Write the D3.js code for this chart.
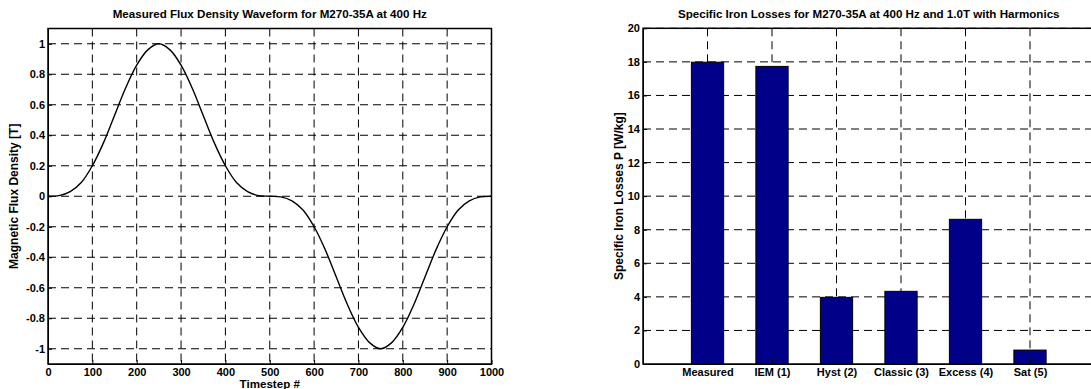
<!DOCTYPE html>
<html>
<head>
<meta charset="utf-8">
<script src="https://cdn.jsdelivr.net/npm/d3@7"></script>
<style>
  body { margin: 0; background: #fff; }
  svg { display: block; font-family: "Liberation Sans", Arial, sans-serif; font-weight: bold; }
  .axis path, .axis line { stroke: #000; }
  .grid line { stroke: #000; stroke-dasharray: 8,5; stroke-width: 1; }
</style>
</head>
<body>
<svg id="chart" width="1091" height="389"></svg>
<script>
// waveform
const timesteps = [0, 25, 50, 75, 100, 125, 150, 175, 200, 225, 250, 275, 300, 325, 350, 375, 400, 425, 450, 475, 500,
  525, 550, 575, 600, 625, 650, 675, 700, 725, 750, 775, 800, 825, 850, 875, 900, 925, 950, 975, 1000];
const fluxDensity = [0, 0.004, 0.03, 0.09, 0.2, 0.35, 0.53, 0.71, 0.86, 0.96, 1.0, 0.96, 0.86, 0.71, 0.53, 0.35, 0.2, 0.09, 0.03, 0.004, 0,
  -0.004, -0.03, -0.09, -0.2, -0.35, -0.53, -0.71, -0.86, -0.96, -1.0, -0.96, -0.86, -0.71, -0.53, -0.35, -0.2, -0.09, -0.03, -0.004, 0];
const fluxTicksX = [0, 100, 200, 300, 400, 500, 600, 700, 800, 900, 1000];
const fluxTicksY = [-1, -0.8, -0.6, -0.4, -0.2, 0, 0.2, 0.4, 0.6, 0.8, 1];

// loss bars
const lossCategories = ['Measured', 'IEM (1)', 'Hyst (2)', 'Classic (3)', 'Excess (4)', 'Sat (5)'];
const lossValues = [17.98, 17.73, 3.97, 4.33, 8.62, 0.83];
const lossTicksY = [0, 2, 4, 6, 8, 10, 12, 14, 16, 18, 20];

const svg = d3.select('#chart');
const plain = d => String(d);

function styleTicks(g) {
  g.selectAll('text')
    .attr('font-family', '"Liberation Sans", Arial, sans-serif')
    .style('font-weight', 'bold')
    .style('font-size', '11px')
    .attr('fill', '#000');
}

// ---------- left: flux density waveform ----------
const left = { x0: 48, x1: 491.5, y0: 28.5, y1: 364 };
const xL = d3.scaleLinear().domain([0, 1000]).range([left.x0, left.x1]);
const yL = d3.scaleLinear().domain([-1.1, 1.1]).range([left.y1, left.y0]);

const gL = svg.append('g');

gL.append('g').attr('class', 'grid')
  .selectAll('line')
  .data(fluxTicksX.filter(d => d > 0 && d < 1000))
  .enter().append('line')
  .attr('x1', d => xL(d)).attr('x2', d => xL(d))
  .attr('y1', left.y0).attr('y2', left.y1);

gL.append('g').attr('class', 'grid')
  .selectAll('line')
  .data(fluxTicksY)
  .enter().append('line')
  .attr('x1', left.x0).attr('x2', left.x1)
  .attr('y1', d => yL(d)).attr('y2', d => yL(d));

const line = d3.line()
  .x((d, i) => xL(timesteps[i]))
  .y(d => yL(d))
  .curve(d3.curveCatmullRom.alpha(0.5));

gL.append('path')
  .datum(fluxDensity)
  .attr('d', line)
  .attr('fill', 'none')
  .attr('stroke', '#000')
  .attr('stroke-width', 1.4);

gL.append('g').attr('class', 'axis')
  .attr('transform', `translate(0,${left.y1})`)
  .call(d3.axisBottom(xL).tickValues(fluxTicksX).tickFormat(plain).tickSize(-4).tickPadding(4).tickSizeOuter(0))
  .call(g => g.selectAll('text').attr('dy', '0.71em'))
  .call(styleTicks);

gL.append('g').attr('class', 'axis')
  .attr('transform', `translate(${left.x0},0)`)
  .call(d3.axisLeft(yL).tickValues(fluxTicksY).tickFormat(plain).tickSize(-4).tickPadding(3).tickSizeOuter(0))
  .call(styleTicks);

gL.append('rect')
  .attr('x', left.x0).attr('y', left.y0)
  .attr('width', left.x1 - left.x0).attr('height', left.y1 - left.y0)
  .attr('fill', 'none').attr('stroke', '#000').attr('stroke-width', 1.5);

gL.append('text')
  .attr('x', (left.x0 + left.x1) / 2).attr('y', 18)
  .attr('text-anchor', 'middle').attr('font-size', 11.6)
  .text('Measured Flux Density Waveform for M270-35A at 400 Hz');

gL.append('text')
  .attr('x', (left.x0 + left.x1) / 2).attr('y', 388)
  .attr('text-anchor', 'middle').attr('font-size', 11.6)
  .text('Timestep #');

gL.append('text')
  .attr('transform', `translate(18,${(left.y0 + left.y1) / 2}) rotate(-90)`)
  .attr('text-anchor', 'middle').attr('font-size', 12)
  .text('Magnetic Flux Density [T]');

// ---------- right: iron loss bars ----------
const right = { x0: 643, x1: 1094.5, y0: 28.3, y1: 364 };
const xR = d3.scalePoint().domain(lossCategories).range([right.x0, right.x1]).padding(1);
const yR = d3.scaleLinear().domain([0, 20]).range([right.y1, right.y0]);
const barW = xR.step() * 0.5;

const gR = svg.append('g');

gR.append('g').attr('class', 'grid')
  .selectAll('line')
  .data(lossCategories)
  .enter().append('line')
  .attr('x1', d => xR(d)).attr('x2', d => xR(d))
  .attr('y1', right.y0).attr('y2', right.y1)
  .attr('stroke', '#333');

gR.append('g').attr('class', 'grid')
  .selectAll('line')
  .data(lossTicksY.filter(d => d > 0))
  .enter().append('line')
  .attr('x1', right.x0).attr('x2', right.x1)
  .attr('y1', d => yR(d)).attr('y2', d => yR(d))
  .attr('stroke', '#333');

gR.selectAll('rect.bar')
  .data(lossValues)
  .enter().append('rect')
  .attr('class', 'bar')
  .attr('x', (d, i) => xR(lossCategories[i]) - barW / 2)
  .attr('y', d => yR(d))
  .attr('width', barW)
  .attr('height', d => yR(0) - yR(d))
  .attr('fill', '#000088')
  .attr('stroke', '#000')
  .attr('stroke-width', 1);

gR.append('g').attr('class', 'axis')
  .attr('transform', `translate(0,${right.y1})`)
  .call(d3.axisBottom(xR).tickSize(-4).tickPadding(4).tickSizeOuter(0))
  .call(g => g.selectAll('text').attr('dy', '0.71em'))
  .call(styleTicks);

gR.append('g').attr('class', 'axis')
  .attr('transform', `translate(${right.x0},0)`)
  .call(d3.axisLeft(yR).tickValues(lossTicksY).tickFormat(plain).tickSize(-4).tickPadding(3).tickSizeOuter(0))
  .call(styleTicks);

gR.append('rect')
  .attr('x', right.x0).attr('y', right.y0)
  .attr('width', right.x1 - right.x0).attr('height', right.y1 - right.y0)
  .attr('fill', 'none').attr('stroke', '#000').attr('stroke-width', 1.5);

gR.append('text')
  .attr('x', (right.x0 + right.x1) / 2).attr('y', 18)
  .attr('text-anchor', 'middle').attr('font-size', 11.6)
  .text('Specific Iron Losses for M270-35A at 400 Hz and 1.0T with Harmonics');

gR.append('text')
  .attr('transform', `translate(623,${(right.y0 + right.y1) / 2}) rotate(-90)`)
  .attr('text-anchor', 'middle').attr('font-size', 12)
  .text('Specific Iron Losses P [W/kg]');
</script>
</body>
</html>
